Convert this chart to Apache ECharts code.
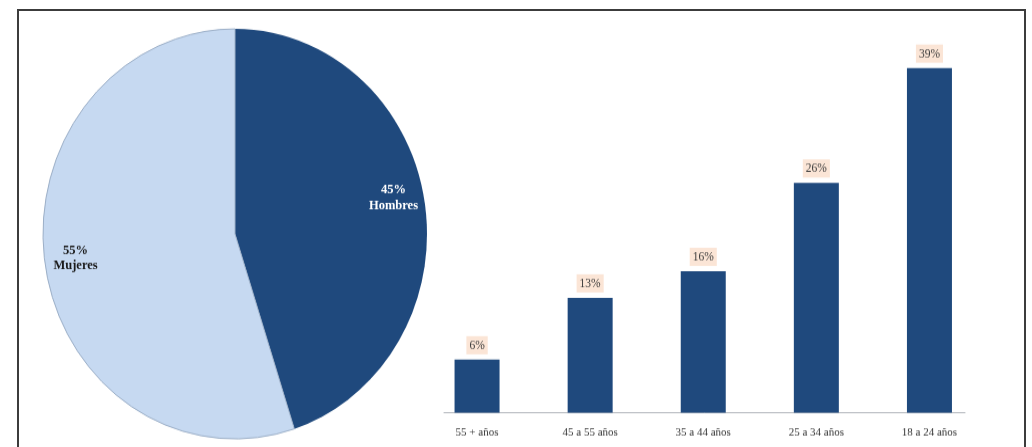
<!DOCTYPE html>
<html>
<head>
<meta charset="utf-8">
<script src="https://cdn.jsdelivr.net/npm/echarts@6/dist/echarts.min.js"></script>
<style>
  html, body { margin: 0; padding: 0; background: #ffffff; overflow: hidden; }
  #wrap { position: relative; width: 1032px; height: 447px; overflow: hidden; }
  /* the figure is drawn slightly taller than wide, so the canvas is stretched vertically */
  #chart { position: absolute; left: 0; top: 0; width: 1032px; height: 418.7px;
           transform: scaleY(1.0677); transform-origin: 0 0; }
  #frame { position: absolute; left: 17px; top: 9px; width: 1005px; height: 470px;
           border: 2px solid #3c3c3c; pointer-events: none; }
</style>
</head>
<body>
<div id="wrap">
  <div id="chart"></div>
  <div id="frame"></div>
</div>
<script>
// Sexo de los encuestados
const sexCategories = ['Hombres', 'Mujeres'];
const sexValues = [45, 55];

// Distribución por edad
const ageCategories = ['55 + años', '45 a 55 años', '35 a 44 años', '25 a 34 años', '18 a 24 años'];
const ageValues = [6, 13, 16, 26, 39];

const DARK = '#1f497d';
const LIGHT = '#c6d9f1';
const SERIF = "'Liberation Serif', 'Times New Roman', serif";

const chart = echarts.init(document.getElementById('chart'), null, { renderer: 'canvas' });

const pieData = sexCategories.map((name, i) => ({
  name: name,
  value: sexValues[i],
  itemStyle: i === 0
    ? { color: DARK, borderColor: DARK, borderWidth: 0 }
    : { color: LIGHT, borderColor: '#9db0c8', borderWidth: 1 }
}));

// transparent ring used only to place the slice labels near the rim
const labelOffsets = [[-4, -8], [3, -3]];
const pieLabelData = sexCategories.map((name, i) => ({
  name: name,
  value: sexValues[i],
  label: {
    color: i === 0 ? '#ffffff' : '#1a1a1a',
    offset: labelOffsets[i]
  }
}));

chart.setOption({
  animation: false,
  backgroundColor: '#ffffff',
  grid: [
    { left: 420.5, right: 46, top: 55.4, bottom: 32.5 },
    { left: 444, right: 67, top: 55.4, bottom: 32.5 }
  ],
  xAxis: [
    {
      type: 'category',
      gridIndex: 0,
      data: ageCategories,
      axisLine: { show: false },
      axisTick: { show: false },
      axisLabel: { color: '#333333', fontFamily: SERIF, fontSize: 11, margin: 13 }
    },
    {
      type: 'category',
      gridIndex: 1,
      data: [''],
      axisLine: { show: true, lineStyle: { color: '#b3b7bd', width: 1 } },
      axisTick: { show: false },
      axisLabel: { show: false }
    }
  ],
  yAxis: [
    { type: 'value', gridIndex: 0, min: 0, max: 40, show: false },
    { type: 'value', gridIndex: 1, min: 0, max: 40, show: false }
  ],
  series: [
    {
      type: 'pie',
      center: [235, 219.1],
      radius: [0, 192],
      startAngle: 90,
      clockwise: true,
      silent: true,
      label: { show: false },
      labelLine: { show: false },
      data: pieData
    },
    {
      type: 'pie',
      center: [235, 219.1],
      radius: [140, 183],
      startAngle: 90,
      clockwise: true,
      silent: true,
      itemStyle: { color: 'rgba(0,0,0,0)' },
      label: {
        show: true,
        position: 'inside',
        fontFamily: SERIF,
        fontWeight: 'bold',
        fontSize: 12.5,
        lineHeight: 14.5,
        formatter: p => p.value + '%\n' + p.name
      },
      labelLine: { show: false },
      data: pieLabelData
    },
    {
      type: 'bar',
      xAxisIndex: 0,
      yAxisIndex: 0,
      data: ageValues,
      barWidth: 45,
      itemStyle: { color: DARK },
      label: {
        show: true,
        position: 'top',
        distance: 5,
        formatter: '{c}%',
        color: '#3a3a3a',
        fontFamily: SERIF,
        fontSize: 11.5,
        backgroundColor: '#fbe5d6',
        padding: [3, 3, 2, 3]
      }
    }
  ]
});
</script>
</body>
</html>
